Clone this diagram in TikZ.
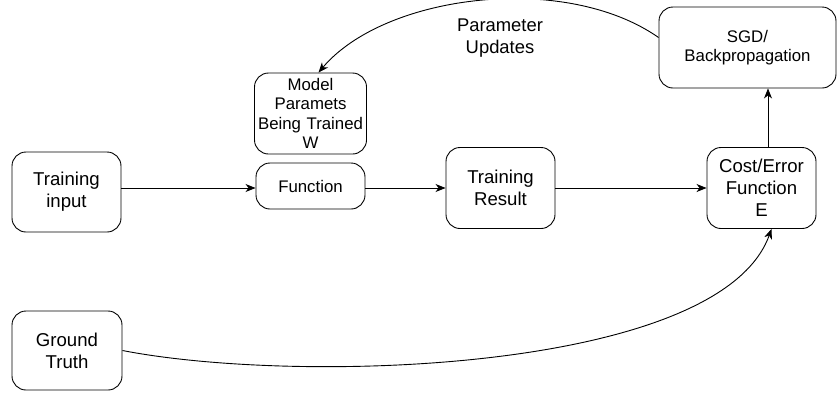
\documentclass[tikz,border=0pt]{standalone}
\usepackage{fontspec}
\setmainfont{Liberation Sans}
\usetikzlibrary{arrows.meta}
\begin{document}
\begin{tikzpicture}[x=1pt,y=-1pt,
  box/.style={draw=black,line width=0.9pt,rounded corners=14pt,align=center,inner sep=0pt,
    font=\fontsize{18.6}{22}\selectfont},
  smalltext/.style={font=\fontsize{16.8}{19.5}\selectfont},
  arr/.style={draw=black,line width=0.9pt,-{Stealth[length=10pt,width=8pt,inset=3pt]}},
  lbl/.style={align=center,font=\fontsize{18.4}{21.5}\selectfont}]
\useasboundingbox (0,0) rectangle (838,392);
\node[box,minimum width=109pt,minimum height=80pt] (tin) at (66.5,192) {Training\\input};
\node[box,smalltext,minimum width=109pt,minimum height=46pt] (fn) at (310.5,186) {Function};
\node[box,smalltext,minimum width=109pt,minimum height=81pt,text width=112pt] (model) at (310.5,113.5) {Model\\Paramets\\Being Trained\\W};
\node[box,minimum width=109pt,minimum height=81pt] (res) at (500.5,188) {Training\\Result};
\node[box,minimum width=109pt,minimum height=81pt] (cost) at (761.5,188) {Cost/Error\\Function\\E};
\node[box,smalltext,minimum width=177pt,minimum height=81pt] (sgd) at (747.5,47.5) {SGD/\\Backpropagation};
\node[box,minimum width=110pt,minimum height=79pt] (gt) at (67,350.5) {Ground\\Truth};
\node[lbl] (pu) at (500,38) {Parameter\\Updates};
\draw[arr] (tin.east |- res) -- (fn.west |- res);
\draw[arr] (fn.east |- res) -- (res.west);
\draw[arr] (res.east) -- (cost.west);
\draw[arr] ([xshift=6.5pt]cost.north) -- ([xshift=6.5pt]cost.north |- sgd.south);
\draw[arr] ([yshift=10pt]sgd.west) .. controls (565,-28) and (385,-6) .. ([xshift=8pt]model.north);
\draw[arr] (gt.east) .. controls (300,385) and (720,372) .. ([xshift=10pt]cost.south);
\end{tikzpicture}
\end{document}
